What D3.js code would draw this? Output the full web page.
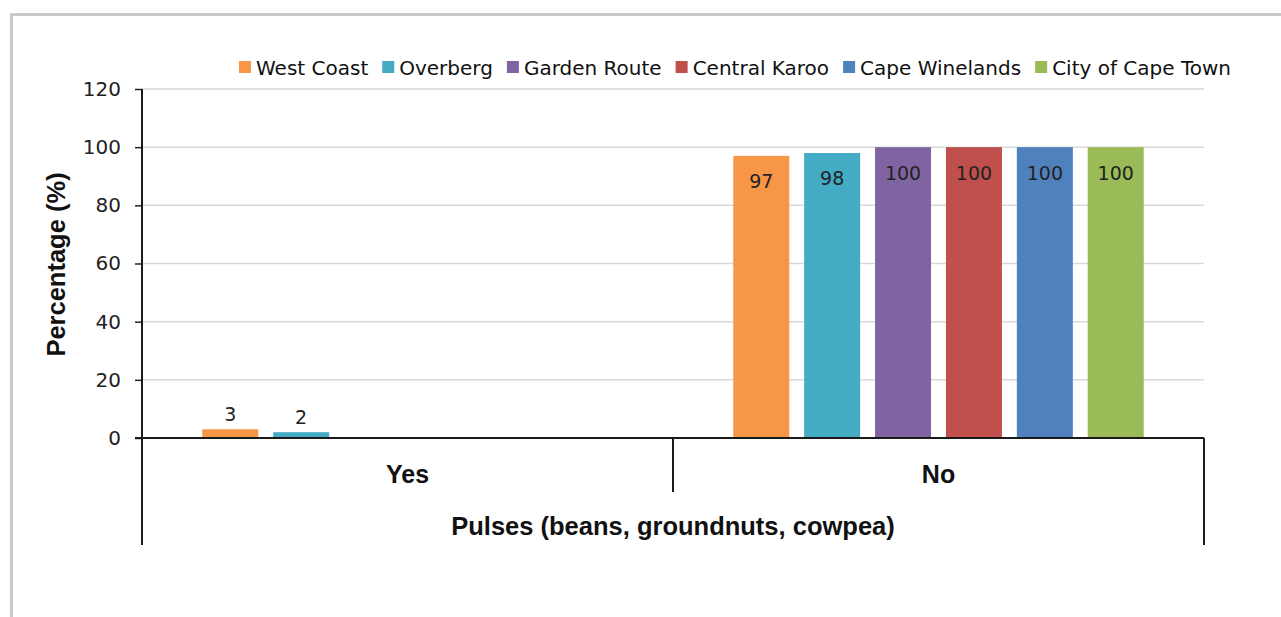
<!DOCTYPE html>
<html>
<head>
<meta charset="utf-8">
<script src="https://cdn.jsdelivr.net/npm/d3@7"></script>
<style>
  html, body { margin: 0; padding: 0; background: #fff; }
  svg { display: block; }
</style>
</head>
<body>
<svg id="chart" width="1281" height="617"></svg>
<script>
// ---- data ----
const categories = ["Yes", "No"];
const seriesNames = ["West Coast", "Overberg", "Garden Route", "Central Karoo", "Cape Winelands", "City of Cape Town"];
const seriesColors = ["#F79646", "#43ACC4", "#8064A2", "#C0504D", "#4F81BD", "#9BBB59"];
const yesValues = [3, 2, 0, 0, 0, 0];
const noValues = [97, 98, 100, 100, 100, 100];
const yTicks = [0, 20, 40, 60, 80, 100, 120];
const xTitle = "Pulses (beans, groundnuts, cowpea)";
const yTitle = "Percentage (%)";

(function () {
const valuesByCat = { "Yes": yesValues, "No": noValues };

const svg = d3.select("#chart");
const bold = "'Liberation Sans', Arial, sans-serif";
const numFont = "'DejaVu Sans', sans-serif";

// frame
svg.append("rect").attr("x", 11.5).attr("y", 14.5).attr("width", 1300).attr("height", 700)
  .attr("fill", "none").attr("stroke", "#c9c9c9").attr("stroke-width", 3);

const pLeft = 142, pRight = 1204, pTop = 89, zeroY = 438;
const y = d3.scaleLinear().domain([0, 120]).range([zeroY, pTop]);
const x0 = d3.scaleBand().domain(categories).range([pLeft, pRight]).padding(0);
const x1 = d3.scaleBand().domain(seriesNames).range([0, x0.bandwidth()]).paddingInner(0.21).paddingOuter(0.85);

// gridlines
svg.append("g").selectAll("line").data(yTicks.filter(d => d > 0)).join("line")
  .attr("x1", pLeft).attr("x2", pRight).attr("y1", d => y(d)).attr("y2", d => y(d))
  .attr("stroke", "#d9d9d9").attr("stroke-width", 1.5);

// y axis
const yAxis = d3.axisLeft(y).tickValues(yTicks).tickSize(7).tickPadding(14);
const gy = svg.append("g").attr("transform", `translate(${pLeft},0)`).call(yAxis);
gy.select(".domain").remove();
gy.selectAll(".tick line").attr("stroke", "#222").attr("stroke-width", 1.5);
gy.selectAll(".tick text").attr("font-family", numFont).attr("font-size", 20).attr("fill", "#222");

// bars
const groups = svg.append("g").selectAll("g").data(categories).join("g")
  .attr("transform", c => `translate(${x0(c)},0)`);
const rows = c => seriesNames.map((s, i) => ({ s, i, v: valuesByCat[c][i] })).filter(d => d.v > 0);
groups.selectAll("rect").data(rows).join("rect")
  .attr("x", d => x1(d.s)).attr("width", x1.bandwidth())
  .attr("y", d => y(d.v)).attr("height", d => zeroY - y(d.v))
  .attr("fill", d => seriesColors[d.i]);

// value labels
groups.selectAll("text").data(rows).join("text")
  .attr("x", d => x1(d.s) + x1.bandwidth() / 2)
  .attr("y", d => (zeroY - y(d.v)) > 40 ? y(d.v) + 32.5 : y(d.v) - 8)
  .attr("text-anchor", "middle")
  .attr("font-family", numFont).attr("font-size", 19).attr("fill", "#222")
  .text(d => d.v);

// axes lines
const axisColor = "#1a1a1a";
svg.append("line").attr("x1", pLeft).attr("x2", pLeft).attr("y1", pTop).attr("y2", 545).attr("stroke", axisColor).attr("stroke-width", 2);
svg.append("line").attr("x1", pLeft - 7).attr("x2", pRight).attr("y1", zeroY).attr("y2", zeroY).attr("stroke", axisColor).attr("stroke-width", 2);
svg.append("line").attr("x1", pRight).attr("x2", pRight).attr("y1", zeroY).attr("y2", 545).attr("stroke", axisColor).attr("stroke-width", 2);
svg.append("line").attr("x1", x0("No")).attr("x2", x0("No")).attr("y1", zeroY).attr("y2", 492).attr("stroke", axisColor).attr("stroke-width", 2);

// category labels
svg.append("g").selectAll("text").data(categories).join("text")
  .attr("x", c => x0(c) + x0.bandwidth() / 2).attr("y", 483)
  .attr("text-anchor", "middle").attr("font-family", bold).attr("font-weight", "bold")
  .attr("font-size", 25).attr("fill", "#111").text(c => c);

// x title
svg.append("text").attr("x", (pLeft + pRight) / 2).attr("y", 535).attr("text-anchor", "middle")
  .attr("font-family", bold).attr("font-weight", "bold").attr("font-size", 25.5).attr("fill", "#111").text(xTitle);

// y title
svg.append("text").attr("transform", `translate(65,${(pTop + zeroY) / 2 + 1}) rotate(-90)`)
  .attr("text-anchor", "middle").attr("font-family", bold).attr("font-weight", "bold")
  .attr("font-size", 25.5).attr("fill", "#111").text(yTitle);

// legend
const legend = svg.append("g");
let lx = 0;
seriesNames.forEach((s, i) => {
  const g = legend.append("g").attr("transform", `translate(${lx},0)`);
  g.append("rect").attr("x", 0).attr("y", -6).attr("width", 12).attr("height", 12).attr("fill", seriesColors[i]);
  const t = g.append("text").attr("x", 17).attr("y", 7.5).attr("font-family", numFont).attr("font-size", 20)
    .attr("fill", "#111").text(s);
  const w = t.node().getComputedTextLength();
  lx += 17 + w + 14;
});
const legendW = lx - 14;
legend.attr("transform", `translate(${(241 + 1229 - legendW) / 2},67)`);
})();
</script>
</body>
</html>
